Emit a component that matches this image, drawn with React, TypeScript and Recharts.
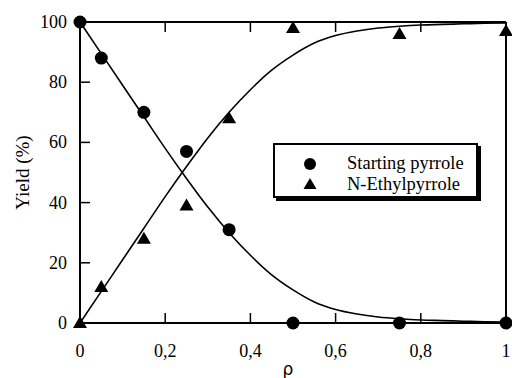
import React from 'react';
import { ComposedChart, Line, Scatter, XAxis, YAxis } from 'recharts';

// measured points
const startRho = [0, 0.05, 0.15, 0.25, 0.35, 0.5, 0.75, 1];
const startYield = [100, 88, 70, 57, 31, 0, 0, 0];
const ethylRho = [0, 0.05, 0.15, 0.25, 0.35, 0.5, 0.75, 1];
const ethylYield = [0, 12, 28, 39, 68, 98, 96, 97];

// fitted curves
const curveRho = [0, 0.05, 0.1, 0.15, 0.2, 0.25, 0.3, 0.35, 0.4, 0.45, 0.5, 0.55, 0.6, 0.65, 0.7, 0.75, 0.8, 0.85, 0.9, 0.95, 1];
const startCurve = [100, 89.5, 79, 68.5, 58, 48, 38.5, 30, 22.5, 16, 11, 7, 4.5, 3, 2, 1.4, 1, 0.8, 0.6, 0.4, 0.3];
const ethylCurve = [0, 10.5, 21, 31.5, 42, 52, 61.5, 70, 77.5, 84, 89, 93, 95.5, 97, 98, 98.6, 99, 99.2, 99.4, 99.6, 99.7];

const xTicks = [0, 0.2, 0.4, 0.6, 0.8, 1];
const yTicks = [0, 20, 40, 60, 80, 100];
const seriesNames = ['Starting pyrrole', 'N-Ethylpyrrole'];

const curveData = curveRho.map((r, i) => ({ rho: r, start: startCurve[i], ethyl: ethylCurve[i] }));
const startPts = startRho.map((r, i) => ({ rho: r, y: startYield[i] }));
const ethylPts = ethylRho.map((r, i) => ({ rho: r, y: ethylYield[i] }));

const FONT = '"Liberation Serif", "Times New Roman", Times, serif';
const TL = 10;

const fmtX = (v: number) => String(v).replace('.', ',');

const BottomTick = (p: any) => (
  <g>
    <line x1={p.x} y1={p.y} x2={p.x} y2={p.y - TL} stroke="#000" strokeWidth={1.5} />
    <text x={p.x} y={p.y + 34} textAnchor="middle" style={{ fontFamily: FONT, fontSize: 18, fill: '#000' }}>{fmtX(p.payload.value)}</text>
  </g>
);
const TopTick = (p: any) => (
  <line x1={p.x} y1={p.y} x2={p.x} y2={p.y + TL} stroke="#000" strokeWidth={1.5} />
);
const LeftTick = (p: any) => (
  <g>
    <line x1={p.x} y1={p.y} x2={p.x + TL} y2={p.y} stroke="#000" strokeWidth={1.5} />
    <text x={p.x - 13} y={p.y + 6} textAnchor="end" style={{ fontFamily: FONT, fontSize: 18, fill: '#000' }}>{p.payload.value}</text>
  </g>
);
const RightTick = (p: any) => (
  <line x1={p.x} y1={p.y} x2={p.x - TL} y2={p.y} stroke="#000" strokeWidth={1.5} />
);

const CircleShape = (p: any) => <circle cx={p.cx} cy={p.cy} r={6.5} fill="#000" />;
const TriShape = (p: any) => (
  <path d={`M${p.cx},${p.cy - 7} L${p.cx + 7},${p.cy + 5} L${p.cx - 7},${p.cy + 5} Z`} fill="#000" />
);

const LegendBox = () => (
  <div style={{ position: 'absolute', left: 273, top: 143, width: 205, height: 55, border: '2px solid #000', boxShadow: '3px 3px 0 #000', background: '#fff', color: '#000', fontFamily: FONT, fontSize: 18.5, boxSizing: 'border-box' }}>
    <svg width={20} height={44} style={{ position: 'absolute', left: 25, top: 8 }}>
      <circle cx={10} cy={11} r={6} fill="#000" />
      <path d="M10,25 L16.5,36 L3.5,36 Z" fill="#000" />
    </svg>
    <div style={{ position: 'absolute', left: 72, top: 8, lineHeight: '21px', whiteSpace: 'nowrap' }}>{seriesNames[0]}</div>
    <div style={{ position: 'absolute', left: 72, top: 29, lineHeight: '21px', whiteSpace: 'nowrap' }}>{seriesNames[1]}</div>
  </div>
);

export default function App() {
  return (
    <div style={{ position: 'absolute', left: 0, top: 0, width: 512, height: 378, background: '#fff' }}>
      <ComposedChart width={512} height={378} data={curveData} margin={{ top: 0, right: 0, bottom: 0, left: 0 }}>
        <XAxis xAxisId="b" dataKey="rho" type="number" domain={[0, 1]} ticks={xTicks} orientation="bottom" height={55}
          axisLine={{ stroke: '#000', strokeWidth: 2 }} tickLine={false} tickSize={0} tickMargin={0} tick={<BottomTick />} interval={0}
          label={{ value: 'ρ', position: 'insideBottom', offset: 3, dx: -5, style: { fontFamily: 'DejaVu Sans, sans-serif', fontSize: 17, fill: '#000' } }} />
        <XAxis xAxisId="t" dataKey="rho" type="number" domain={[0, 1]} ticks={xTicks} orientation="top" height={22}
          axisLine={{ stroke: '#000', strokeWidth: 2 }} tickLine={false} tickSize={0} tickMargin={0} tick={<TopTick />} interval={0} />
        <YAxis yAxisId="l" type="number" domain={[0, 100]} ticks={yTicks} orientation="left" width={80}
          axisLine={{ stroke: '#000', strokeWidth: 2 }} tickLine={false} tickSize={0} tickMargin={0} tick={<LeftTick />} interval={0}
          label={{ value: 'Yield (%)', angle: -90, position: 'insideLeft', offset: 22, style: { fontFamily: FONT, fontSize: 19, textAnchor: 'middle', fill: '#000' } }} />
        <YAxis yAxisId="r" type="number" domain={[0, 100]} ticks={yTicks} orientation="right" width={6}
          axisLine={{ stroke: '#000', strokeWidth: 2 }} tickLine={false} tickSize={0} tickMargin={0} tick={<RightTick />} interval={0} />
        <Line xAxisId="b" yAxisId="l" type="monotone" dataKey="start" stroke="#000" strokeWidth={1.6} dot={false} isAnimationActive={false} legendType="none" />
        <Line xAxisId="b" yAxisId="l" type="monotone" dataKey="ethyl" stroke="#000" strokeWidth={1.6} dot={false} isAnimationActive={false} legendType="none" />
        <Scatter xAxisId="b" yAxisId="l" name={seriesNames[0]} data={startPts} dataKey="y" shape={<CircleShape />} isAnimationActive={false} />
        <Scatter xAxisId="b" yAxisId="l" name={seriesNames[1]} data={ethylPts} dataKey="y" shape={<TriShape />} isAnimationActive={false} />
      </ComposedChart>
      <LegendBox />
    </div>
  );
}
